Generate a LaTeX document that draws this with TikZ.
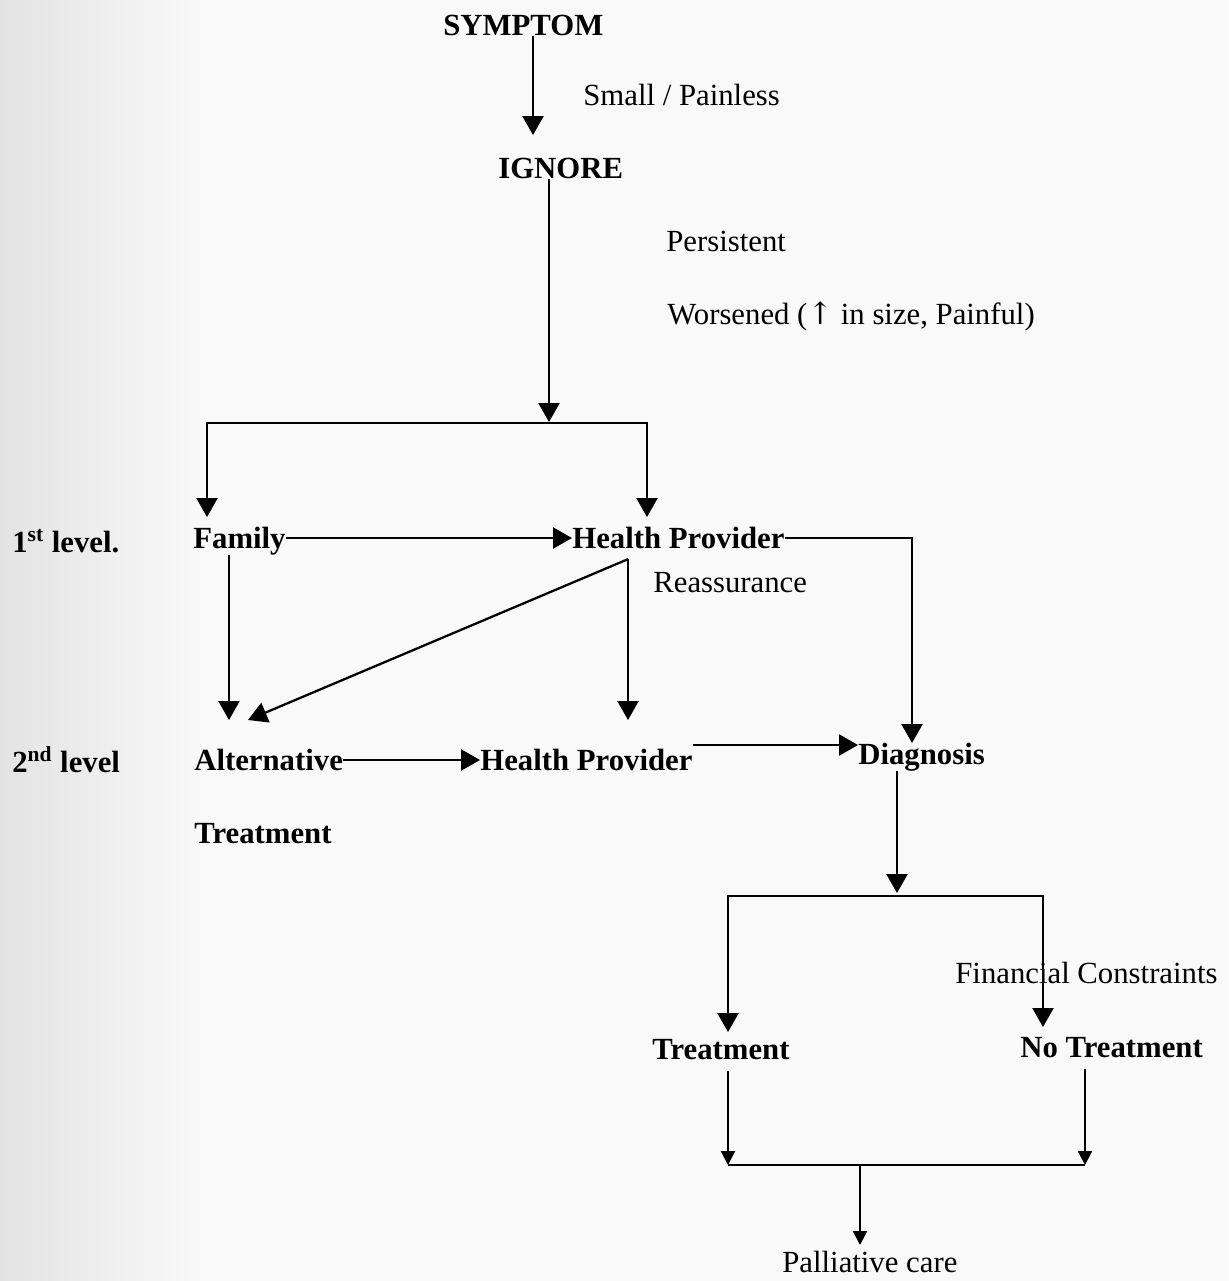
\documentclass[tikz,border=0pt]{standalone}
\usepackage{fontspec}
\setmainfont{Liberation Serif}
\newfontfamily\arrfont{DejaVu Serif}
\usetikzlibrary{arrows.meta}
\begin{document}
\begin{tikzpicture}[x=0.02cm,y=-0.02cm,
  lbl/.style={inner sep=0pt, anchor=west, font=\fontsize{17.5}{20}\selectfont},
  blbl/.style={lbl, font=\fontsize{17.5}{20}\selectfont\bfseries},
  conn/.style={line width=1.3pt, draw=black},
  arr/.style={conn, -{Triangle[length=0.38cm, width=0.42cm]}},
  arrs/.style={conn, -{Triangle[length=0.28cm, width=0.28cm]}}]
\useasboundingbox (0,0) rectangle (1228,1281);
\fill[gray!5] (0,0) rectangle (1228,1281);
\shade[left color=gray!22, right color=gray!5] (0,0) rectangle (200,1281);

% texts
\node[blbl] (symptom) at (443,25) {SYMPTOM};
\node[lbl] (small) at (583,95) {Small / Painless};
\node[blbl] (ignore) at (498,168) {IGNORE};
\node[lbl] (persist) at (666,241) {Persistent};
\node[lbl] (worse) at (667,316) {Worsened ({\arrfont ↑} in size, Painful)};
\node[blbl] (lvl1) at (12,541) {1\textsuperscript{st} level.};
\node[blbl] (family) at (193,541) {Family};
\node[blbl] (hp1) at (572,538) {Health Provider};
\node[lbl] (reass) at (653,583) {Reassurance};
\node[blbl] (lvl2) at (12,760) {2\textsuperscript{nd} level};
\node[blbl] (alt) at (194,760) {Alternative};
\node[blbl] (altb) at (194,834) {Treatment};
\node[blbl] (hp2) at (480,760) {Health Provider};
\node[blbl] (diag) at (858,757) {Diagnosis};
\node[lbl] (fin) at (955,973) {Financial Constraints};
\node[blbl] (treat) at (652,1050) {Treatment};
\node[blbl] (notreat) at (1020,1048) {No Treatment};
\node[lbl] (pall) at (782,1262) {Palliative care};

% arrow tips and junctions
\coordinate (t1) at (533,135);
\coordinate (t2) at (549,423);
\coordinate (t3a) at (207,517);
\coordinate (t3b) at (647,517);
\coordinate (t5) at (912,743);
\coordinate (t6) at (229,720);
\coordinate (t7a) at (248,720);
\coordinate (t7b) at (628,720);
\coordinate (t11) at (897,896);
\coordinate (t12a) at (728,1032);
\coordinate (t12b) at (1043,1027);
\coordinate (t13a) at (728,1165);
\coordinate (t13b) at (1085,1165);
\coordinate (j15) at (860,1165);
\coordinate (t15) at (860,1245);

% connectors
\draw[arr] (symptom.south -| t1) -- (t1);
\draw[arr] (ignore.south -| t2) -- ([yshift=0.02cm]t2);
\draw[arr] (t2) -| (t3a);
\draw[arr] (t2) -| (t3b);
\draw[arr] (family.east |- hp1.west) -- (hp1.west);
\draw[arr] (hp1.east) -| (t5);
\draw[arr] (family.south -| t6) -- (t6);
\draw[arr] ([yshift=-0.2cm]hp1.south -| t7b) -- (t7a);
\draw[arr] ([yshift=-0.2cm]hp1.south -| t7b) -- (t7b);
\draw[arr] (alt.east) -- (hp2.west);
\draw[arr] ([yshift=0.3cm]hp2.east) -- ([yshift=0.3cm]hp2.east -| diag.west);
\draw[arr] (diag.south -| t11) -- ([yshift=0.06cm]t11);
\draw[arr] (t11) -| (t12a);
\draw[arr] (t11) -| (t12b);
\draw[arrs] ([yshift=-0.2cm]treat.south -| t13a) -- (t13a);
\draw[arrs] ([yshift=-0.2cm]notreat.south -| t13b) -- (t13b);
\draw[conn] (t13a) -- (t13b);
\draw[arrs] (j15) -- (t15);
\end{tikzpicture}
\end{document}
